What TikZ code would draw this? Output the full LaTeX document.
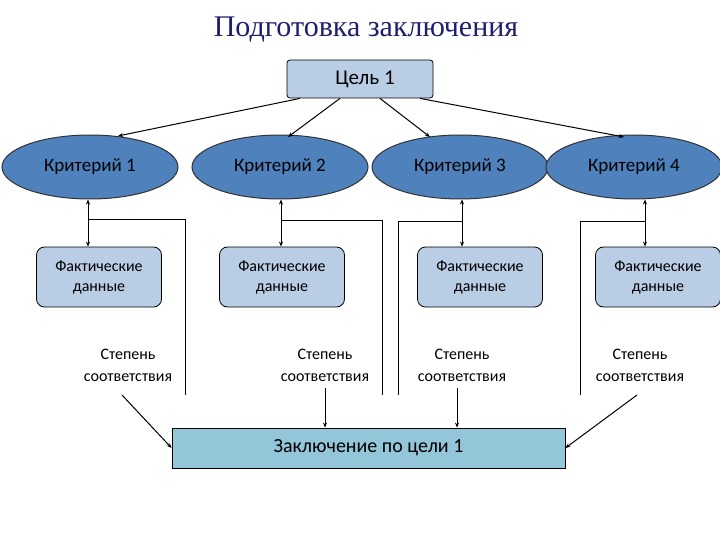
\documentclass[tikz,border=0pt]{standalone}
\usepackage{fontspec}
\setmainfont{Carlito}
\newfontfamily\titlefont{Liberation Serif}
\usetikzlibrary{shapes.geometric,arrows.meta}
\definecolor{ellblue}{HTML}{4F81BD}
\definecolor{boxblue}{HTML}{B9CDE5}
\definecolor{conc}{HTML}{93C6D8}
\definecolor{titlec}{HTML}{1F1F6F}
\begin{document}
\begin{tikzpicture}[x=1pt,y=-1pt,
  crit/.style={ellipse,draw=black!80,line width=1pt,fill=ellblue,minimum width=176pt,minimum height=64pt,font=\fontsize{19}{22}\selectfont},
  fact/.style={rounded corners=8pt,draw=black,line width=0.8pt,fill=boxblue,minimum width=125pt,minimum height=60pt,align=center,font=\fontsize{16}{20}\selectfont},
  deg/.style={align=center,font=\fontsize{16}{22}\selectfont},
  ln/.style={line width=1pt},
  arr/.style={line width=1pt,-{Stealth[length=5pt,width=4pt]}},
  darr/.style={line width=1pt,{Stealth[length=5pt,width=4pt]}-{Stealth[length=5pt,width=4pt]}}]
\useasboundingbox (0,0) rectangle (720,540);
\node[font=\titlefont\fontsize{30}{34}\selectfont,text=titlec] (title) at (366,30) {Подготовка заключения};
\node[rounded corners=3pt,draw=black,line width=0.8pt,fill=boxblue,minimum width=146pt,minimum height=38pt,font=\fontsize{21}{24}\selectfont] (goal) at (360,79) {\hspace*{10pt}Цель 1};
\node[crit] (c1) at (90,167) {Критерий 1};
\node[crit] (c2) at (280,167) {Критерий 2};
\node[crit] (c3) at (460,167) {Критерий 3};
\node[crit] (c4) at (634,167) {Критерий 4};
\foreach \i/\x in {1/99,2/282,3/480,4/658}{\node[fact] (f\i) at (\x,277) {Фактические\\данные};}
\node[deg] (d1) at (128,365) {Степень\\соответствия};
\node[deg] (d2) at (325,365) {Степень\\соответствия};
\node[deg] (d3) at (462,365) {Степень\\соответствия};
\node[deg] (d4) at (640,365) {Степень\\соответствия};
\node[draw=black,line width=0.8pt,fill=conc,minimum width=393pt,minimum height=40pt,font=\fontsize{20}{24}\selectfont] (z) at (368.5,448) {Заключение по цели 1};
% goal to criteria
\draw[arr] ([xshift=-60pt]goal.south) -- (118,136);
\draw[arr] ([xshift=-20pt]goal.south) -- (288,137);
\draw[arr] ([xshift=20pt]goal.south) -- (430,137);
\draw[arr] ([xshift=60pt]goal.south) -- (624,137);
% criteria to facts
\draw[darr] (c1.south -| 88,0) -- (f1.north -| 88,0);
\draw[darr] (c2.south -| 281,0) -- (f2.north -| 281,0);
\draw[darr] (c3.south -| 462,0) -- (f3.north -| 462,0);
\draw[darr] (c4.south -| 645,0) -- (f4.north -| 645,0);
% brackets
\coordinate (b1) at (185,395); \coordinate (b2) at (382,395);
\coordinate (b3) at (398,395); \coordinate (b4) at (580,395);
\draw[ln] (88,220) -- (185,220) -- (b1);
\draw[ln] (281,221) -- (382,221) -- (b2);
\draw[ln] (462,222) -- (398,222) -- (b3);
\draw[ln] (645,222) -- (580,222) -- (b4);
% to conclusion
\draw[arr] (122,395) -- (z.west);
\draw[arr] (d2.south) ++(0,3) -- (z.north -| 325,0);
\draw[arr] (d3.south -| 457,0) ++(0,3) -- (z.north -| 457,0);
\draw[arr] (637,395) -- (z.east);
\end{tikzpicture}
\end{document}
